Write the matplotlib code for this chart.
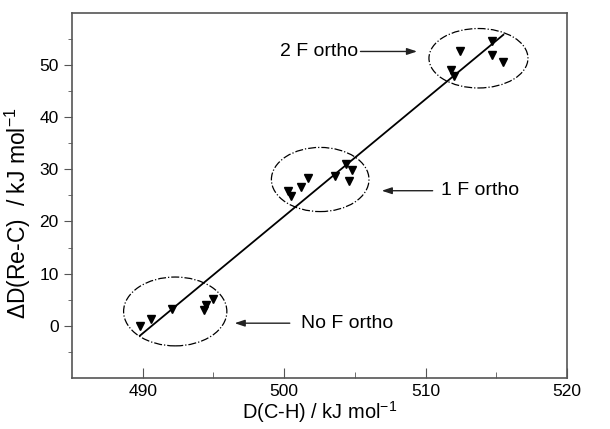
import numpy as np
import matplotlib
matplotlib.use('Agg')
from matplotlib import pyplot as plt
from matplotlib.patches import Ellipse
from matplotlib.ticker import FixedLocator

plt.rcParams['font.family'] = ['Liberation Sans', 'DejaVu Sans']
plt.rcParams['axes.unicode_minus'] = False

# bond dissociation energies
d_ch = [489.8, 490.6, 492.1, 494.3, 494.5, 495.0,
        500.3, 500.5, 501.2, 501.7, 503.6, 504.4, 504.8, 504.6,
        512.4, 511.8, 512.0, 514.7, 514.7, 515.5]
d_rec = [-0.1, 1.3, 3.2, 3.1, 4.0, 5.2,
         25.9, 24.8, 26.6, 28.4, 28.7, 31.0, 29.9, 27.7,
         52.6, 49.1, 47.9, 54.7, 51.9, 50.6]

# fitted line end points
fit_x = [489.8, 515.5]
fit_y = [-1.9, 55.8]

x_major = [490, 500, 510, 520]
x_minor = [495, 505, 515]
y_major = [0, 10, 20, 30, 40, 50]
y_minor = [-5, 5, 15, 25, 35, 45, 55]

# groups: label, ellipse centre, width, height, text pos, arrow start, arrow end
groups = [
    ('No F ortho', (492.3, 2.75), 7.3, 13.2, (501.2, 0.5), (500.4, 0.5), (496.5, 0.5)),
    ('1 F ortho', (502.55, 28.05), 6.9, 12.3, (511.1, 25.9), (510.5, 25.9), (506.9, 25.9)),
    ('2 F ortho', (513.74, 51.3), 7.0, 11.4, (499.7, 52.6), (505.4, 52.6), (509.4, 52.6)),
]

fig = plt.figure(figsize=(6.1, 4.29), dpi=100)
ax = fig.add_axes([0.118, 0.119, 0.8115, 0.851])

ax.plot(fit_x, fit_y, color='black', lw=1.3)
ax.plot(d_ch, d_rec, 'v', color='black', ms=6, ls='none')

for label, centre, w, h, text_pos, a_start, a_end in groups:
    ax.add_patch(Ellipse(centre, w, h, fill=False, ls='-.', lw=0.9, color='black'))
    ax.annotate('', xy=a_end, xytext=a_start,
                arrowprops=dict(arrowstyle='-|>,head_length=0.6,head_width=0.2',
                                color='#222222', lw=1.0, shrinkA=0, shrinkB=0))
    ax.text(text_pos[0], text_pos[1], label, fontsize=14, va='center', ha='left')

ax.set_xlim(485, 520)
ax.set_ylim(-10, 60)
ax.xaxis.set_major_locator(FixedLocator(x_major))
ax.xaxis.set_minor_locator(FixedLocator(x_minor))
ax.yaxis.set_major_locator(FixedLocator(y_major))
ax.yaxis.set_minor_locator(FixedLocator(y_minor))

for spine in ax.spines.values():
    spine.set_color('#555555')
    spine.set_linewidth(1.2)
ax.tick_params(axis='x', which='both', direction='in', colors='#555555', labelcolor='black', labelsize=12.5)
ax.tick_params(axis='x', which='major', length=7, pad=4)
ax.tick_params(axis='x', which='minor', length=4)
ax.tick_params(axis='y', which='both', direction='out', colors='#555555', labelcolor='black', labelsize=12.5)
ax.tick_params(axis='y', which='major', length=6)
ax.tick_params(axis='y', which='minor', length=3)

ax.set_xlabel('D(C-H) / kJ mol$^{\\mathregular{-1}}$', fontsize=14.4)
ax.xaxis.set_label_coords(0.5, -0.058)
ax.set_ylabel('$\\mathregular{\\Delta}$D(Re-C)  / kJ mol$^{\\mathregular{-1}}$', fontsize=16.5)
ax.yaxis.set_label_coords(-0.078, 0.45)

fig.savefig('out.png', dpi=100)
